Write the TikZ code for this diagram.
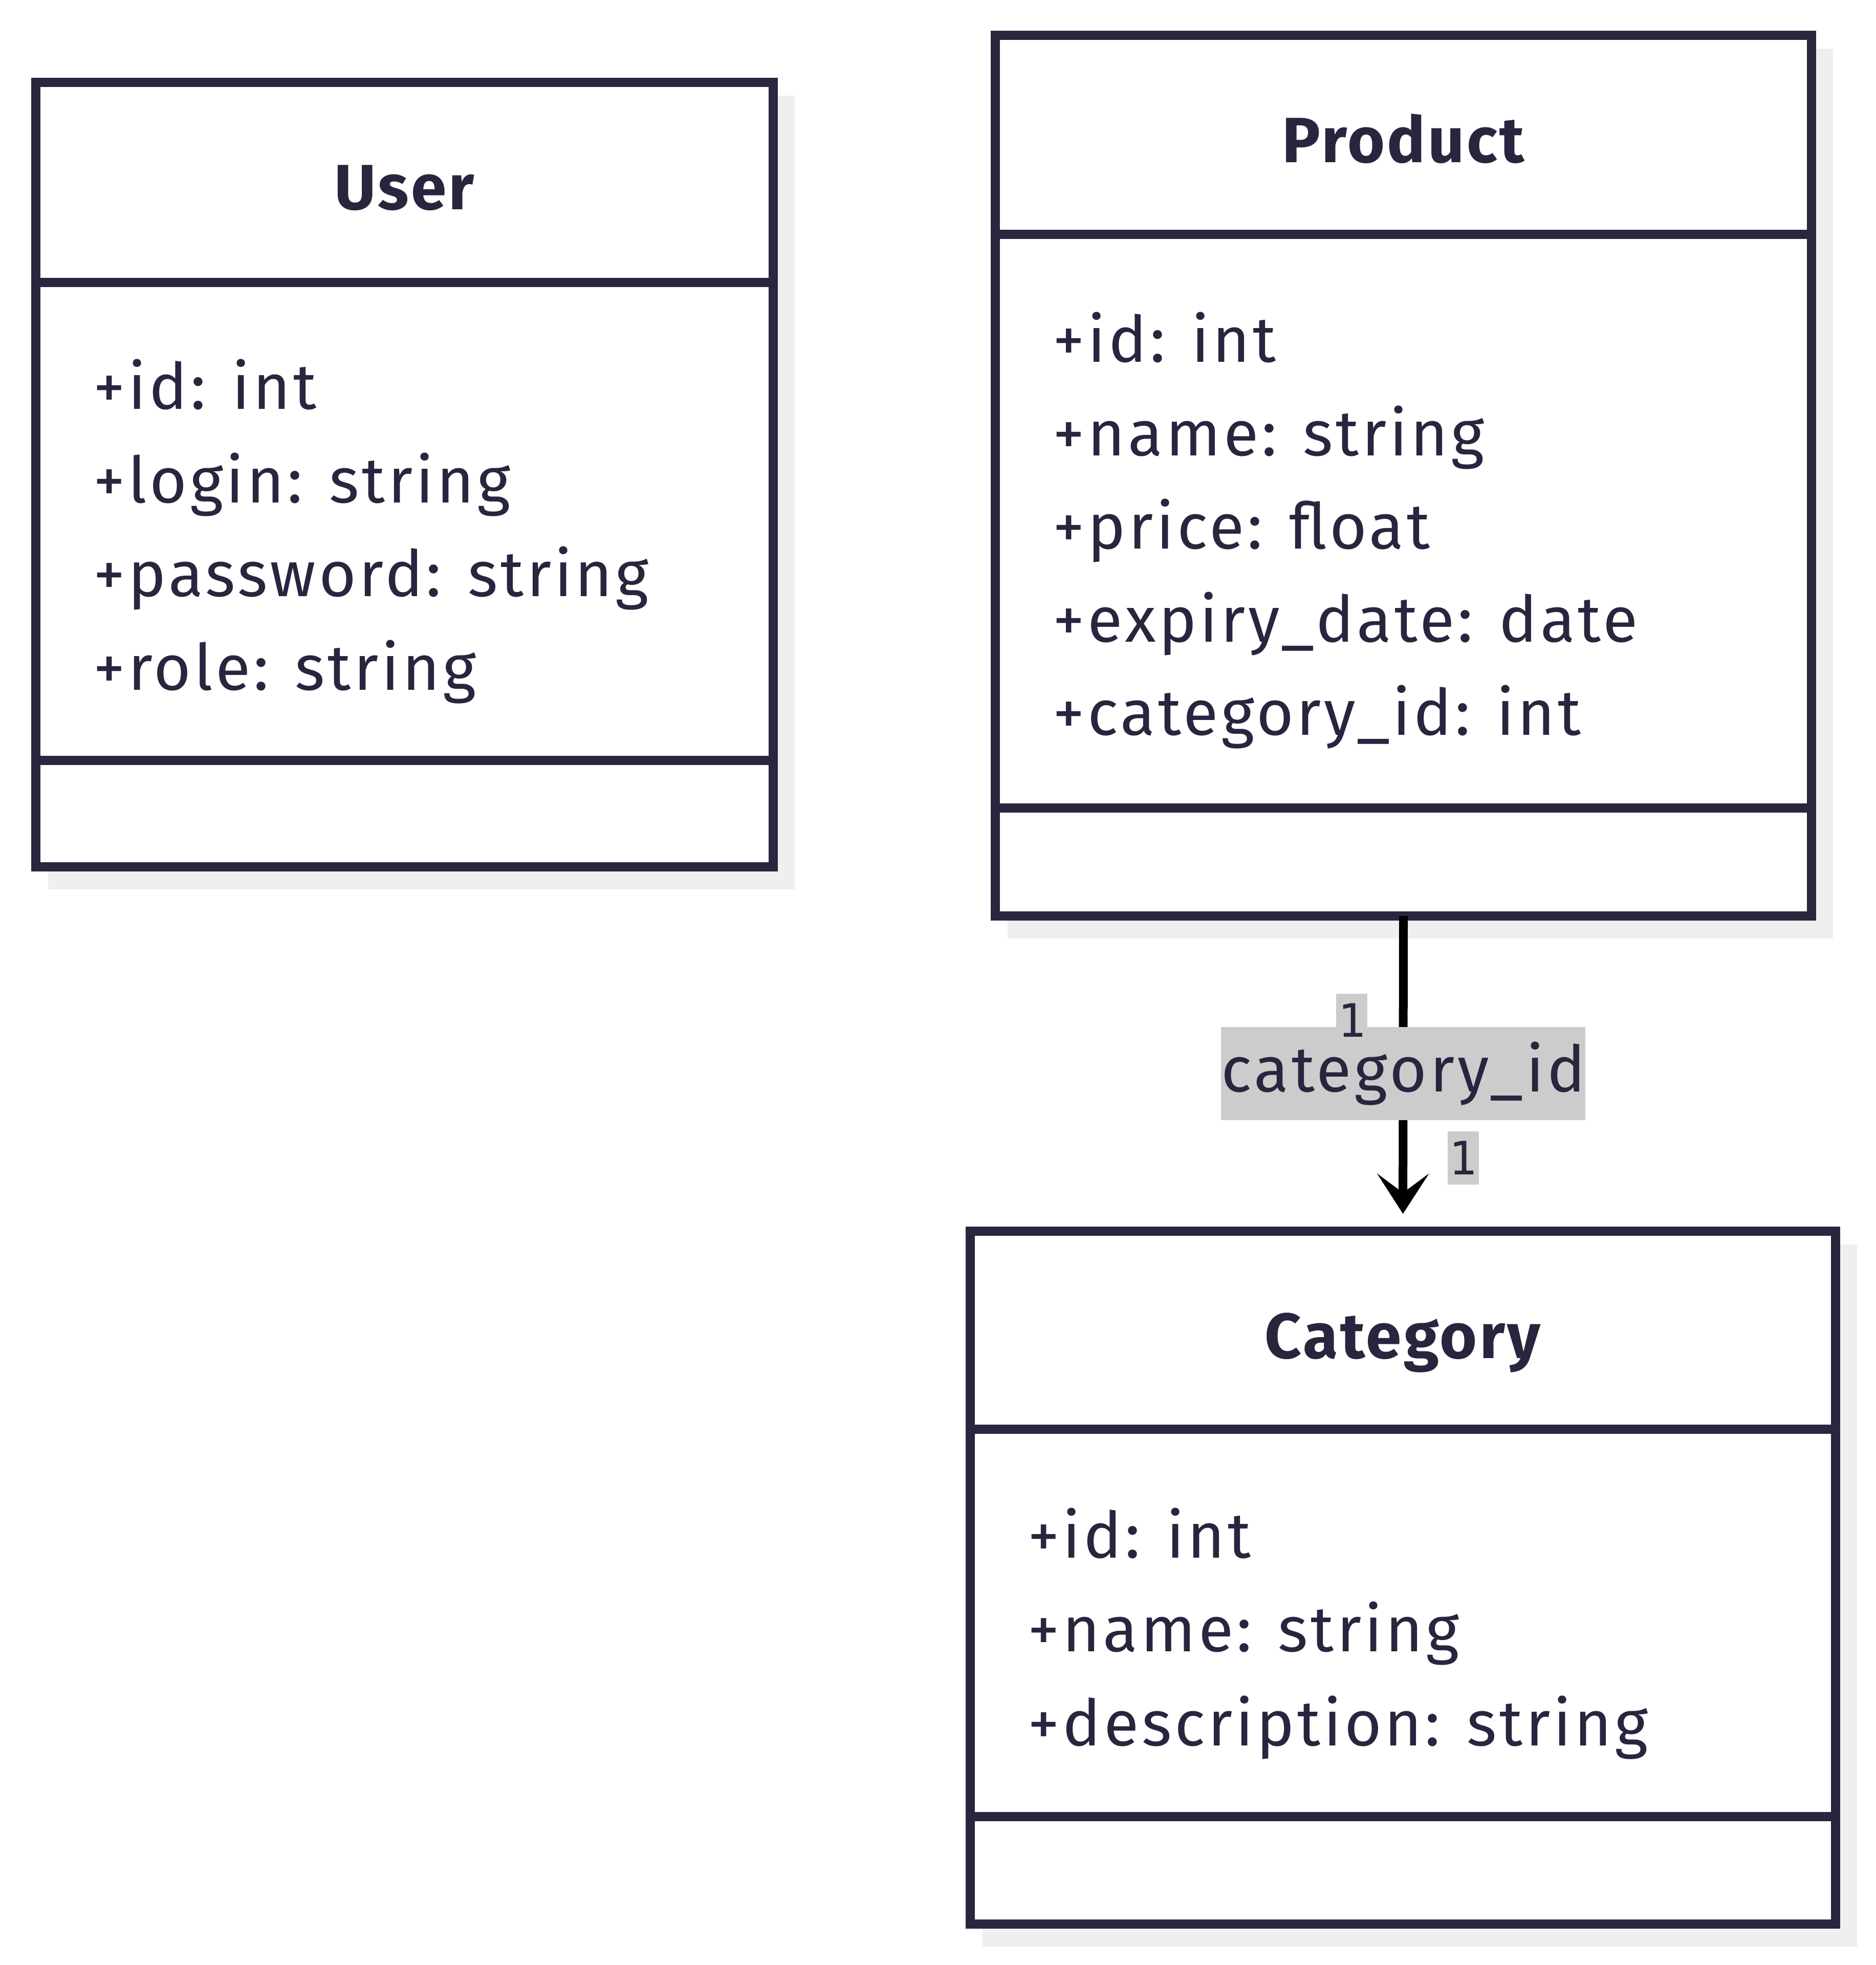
\documentclass[tikz,border=0pt]{standalone}
\usepackage{fontspec}
\setmainfont{Fira Sans}[LetterSpace=4.5, BoldFeatures={LetterSpace=3.5}]
\newfontfamily\multfont{DejaVu Sans Mono}
\usepackage{tikz}
\usetikzlibrary{arrows.meta,positioning,shadows,calc}
\definecolor{classline}{RGB}{40,39,62}
\definecolor{inkdark}{RGB}{40,38,62}
\definecolor{shadowgrey}{RGB}{239,239,239}
\definecolor{lblgrey}{RGB}{204,204,204}

\begin{document}
\begin{tikzpicture}[
    y=-1cm,
    >={Stealth[length=0.79cm, width=1.02cm, inset=0.38cm, line width=0pt 0]},
    font=\fontsize{35.6}{43}\selectfont,
    text=inkdark,
    classbox/.style={
        rectangle,
        draw=classline,
        line width=0.18cm,
        fill=white,
        inner sep=0pt,
        outer sep=0pt,
        anchor=north west,
        general shadow={fill=shadowgrey, draw=shadowgrey, line width=0.18cm,
            shadow xshift=0.33cm, shadow yshift=-0.35cm}
    },
    divider/.style={draw=classline, line width=0.18cm},
    title/.style={font=\fontsize{35.6}{43}\selectfont\bfseries, anchor=base, inner sep=0pt},
    attr/.style={anchor=base west, inner sep=0pt},
    assoc/.style={draw=black, line width=0.17cm, ->, shorten >=0.34cm},
    rolelabel/.style={fill=lblgrey, minimum width=7.12cm, minimum height=1.82cm, inner sep=0pt},
    mult/.style={
        fill=lblgrey,
        minimum width=0.61cm,
        minimum height=1.04cm,
        inner sep=0pt,
        outer sep=0pt,
        font=\multfont\fontsize{25.6}{30}\selectfont
    }
  ]
  \useasboundingbox (0,0) rectangle (36.65,38.40);

  % the three classes
  \node [classbox, minimum width=14.41cm, minimum height=15.33cm] (user) at (0.70,1.61) {};
  \node [classbox, minimum width=15.95cm, minimum height=17.21cm] (product) at (19.45,0.69) {};
  \node [classbox, minimum width=16.91cm, minimum height=13.54cm] (category) at (18.96,24.06) {};

  \draw [divider] (user.west |- 0,5.52) -- (user.east |- 0,5.52);
  \draw [divider] (user.west |- 0,14.86) -- (user.east |- 0,14.86);
  \draw [divider] (product.west |- 0,4.58) -- (product.east |- 0,4.58);
  \draw [divider] (product.west |- 0,15.79) -- (product.east |- 0,15.79);
  \draw [divider] (category.west |- 0,27.93) -- (category.east |- 0,27.93);
  \draw [divider] (category.west |- 0,35.50) -- (category.east |- 0,35.50);

  \node [title] (usertitle) at (7.90,4.10) {User};
  \node [title] (producttitle) at (27.42,3.18) {Product};
  \node [title] (categorytitle) at (27.41,26.54) {Category};

  \foreach \txt [count=\i from 0] in {+id: int, +login: string, +password: string, +role: string}
    \node [attr] (userattr\i) at (1.82,7.99+1.83*\i) {\txt};
  \foreach \txt [count=\i from 0] in {+id: int, +name: string, +price: float, +expiry\_date: date, +category\_id: int}
    \node [attr] (prodattr\i) at (20.57,7.08+1.822*\i) {\txt};
  \foreach \txt [count=\i from 0] in {+id: int, +name: string, +description: string}
    \node [attr] (catattr\i) at (20.08,30.44+1.835*\i) {\txt};

  % association
  \draw [assoc] (product.south) -- (category.north);
  \node [rolelabel] (role) at ($(product.south)!0.5!(category.north)$) {category\_id};
  \node [mult, below left=1.52cm and 0.705cm of product.south] (multfrom) {1};
  \node [mult, above right=0.91cm and 0.87cm of category.north] (multto) {1};

\end{tikzpicture}
\end{document}
